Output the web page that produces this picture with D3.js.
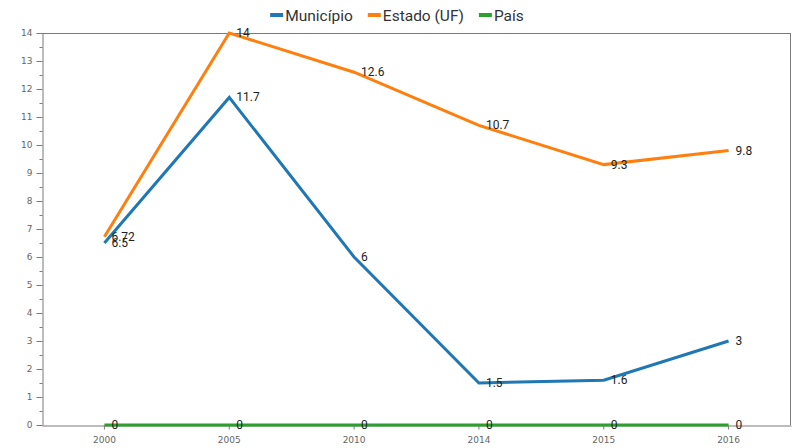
<!DOCTYPE html>
<html>
<head>
<meta charset="utf-8">
<script src="https://cdn.jsdelivr.net/npm/d3@7"></script>
<style>
  html, body { margin: 0; padding: 0; background: #fff; }
  svg { display: block; }
</style>
</head>
<body>
<svg id="chart" width="793" height="448"></svg>
<script>
const categories = ["2000", "2005", "2010", "2014", "2015", "2016"];
const municipio = [6.5, 11.7, 6, 1.5, 1.6, 3];
const estado = [6.72, 14, 12.6, 10.7, 9.3, 9.8];
const pais = [0, 0, 0, 0, 0, 0];
const seriesNames = ["Município", "Estado (UF)", "País"];
const seriesColors = ["#1f77b4", "#ff7f0e", "#2ca02c"];
const yTicks = d3.range(0, 15, 1);
const yMinorTicks = d3.range(0.5, 14, 1);

(function () {
const series = [municipio, estado, pais].map((vals, i) => ({
  name: seriesNames[i], color: seriesColors[i],
  values: vals.map((v, j) => ({ cat: categories[j], v }))
}));

const svg = d3.select("#chart");
const mLeft = 42, mRight = 791, mTop = 33, mBottom = 425;

const x = d3.scaleBand().domain(categories).range([mLeft, mRight]);
const y = d3.scaleLinear().domain([0, 14]).range([mBottom, mTop]);
const cx = c => x(c) + x.bandwidth() / 2;

const axisColor = "#7a7a7a";
const tickText = "#666";

// frame (top and right)
svg.append("line").attr("x1", mLeft).attr("x2", mRight).attr("y1", mTop + 0.5).attr("y2", mTop + 0.5)
  .attr("stroke", axisColor).attr("stroke-width", 1);
svg.append("line").attr("x1", mRight - 0.5).attr("x2", mRight - 0.5).attr("y1", mTop).attr("y2", mBottom)
  .attr("stroke", axisColor).attr("stroke-width", 1);

// y axis
const yAxis = svg.append("g").attr("transform", `translate(${mLeft + 0.5},0)`)
  .call(d3.axisLeft(y).tickValues(yTicks).tickSize(6).tickSizeOuter(0).tickFormat(d3.format("d")));
yAxis.selectAll("path, line").attr("stroke", axisColor);
yAxis.selectAll("text").attr("fill", tickText).attr("font-size", 9)
  .attr("font-family", "DejaVu Sans, sans-serif").attr("x", -10);
const yMinor = svg.append("g").attr("transform", `translate(${mLeft + 0.5},0)`)
  .call(d3.axisLeft(y).tickValues(yMinorTicks).tickSize(3).tickSizeOuter(0).tickFormat(""));
yMinor.select("path").remove();
yMinor.selectAll("line").attr("stroke", axisColor);

// x axis
const xAxis = svg.append("g").attr("transform", `translate(0,${mBottom + 0.5})`)
  .call(d3.axisBottom(x).tickSize(4).tickSizeOuter(0));
xAxis.selectAll("path, line").attr("stroke", axisColor);
xAxis.selectAll("text").attr("fill", tickText).attr("font-size", 9)
  .attr("font-family", "DejaVu Sans, sans-serif").attr("dy", "1.2em");

// lines
const line = d3.line().x(d => cx(d.cat)).y(d => y(d.v));
series.forEach(s => {
  svg.append("path").datum(s.values)
    .attr("d", line).attr("fill", "none")
    .attr("stroke", s.color).attr("stroke-width", 3)
    .attr("stroke-linejoin", "miter");
});

// data labels
series.forEach(s => {
  svg.append("g").selectAll("text").data(s.values).join("text")
    .attr("x", d => cx(d.cat) + 7)
    .attr("y", d => y(d.v) + 4)
    .attr("font-size", 12)
    .attr("font-family", "Roboto, sans-serif")
    .attr("fill", "#222")
    .text(d => String(d.v));
});

// legend
const legend = svg.append("g").attr("font-family", "Roboto, sans-serif").attr("font-size", 15.5);
const items = [];
series.forEach(s => {
  const g = legend.append("g");
  g.append("rect").attr("x", 0).attr("y", -2).attr("width", 13).attr("height", 4).attr("fill", s.color);
  const t = g.append("text").attr("x", 15).attr("y", 5.5).attr("fill", "#333").text(s.name);
  const w = 15 + t.node().getComputedTextLength();
  items.push({ g, w });
});
const gap = 15;
const total = items.reduce((a, b) => a + b.w, 0) + gap * (items.length - 1);
let lx = 397 - total / 2;
items.forEach(it => {
  it.g.attr("transform", `translate(${lx},15)`);
  lx += it.w + gap;
});
})();
</script>
</body>
</html>
